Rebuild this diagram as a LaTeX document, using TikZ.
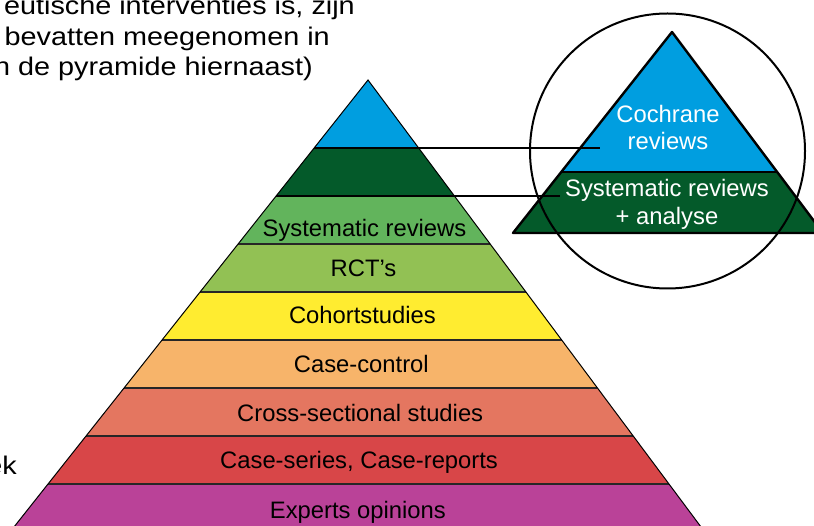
\documentclass[tikz,border=0pt]{standalone}
\usepackage{fontspec}
\setmainfont{Liberation Sans}
\newfontfamily\widefont[FakeStretch=1.13]{Liberation Sans}
\usetikzlibrary{calc}

\definecolor{cochraneblue}{RGB}{0,158,224}
\definecolor{srdark}{RGB}{4,90,42}
\definecolor{srlight}{RGB}{98,180,92}
\definecolor{rctgreen}{RGB}{146,193,84}
\definecolor{cohortyellow}{RGB}{255,236,48}
\definecolor{casectrl}{RGB}{247,180,106}
\definecolor{crosssec}{RGB}{228,118,96}
\definecolor{caseser}{RGB}{216,70,72}
\definecolor{expertpurple}{RGB}{186,66,152}

\begin{document}
\begin{tikzpicture}[x=1pt, y=-1pt,
        sep/.style={draw=black!85, line width=1.3pt},
        thickline/.style={draw=black, line width=2.4pt},
        lbl/.style={font=\fontsize{23.8}{28}\selectfont, anchor=base, inner sep=0pt},
        note/.style={font=\widefont\fontsize{25.5}{30}\selectfont, anchor=base east, inner sep=0pt}]
        \useasboundingbox (0,0) rectangle (814,526);
        \clip (0,0) rectangle (814,526);

        % Main pyramid bands
        \foreach \ya/\yb/\col in {80/148/cochraneblue, 148/196/srdark, 196/244/srlight,
                244/292/rctgreen, 292/340/cohortyellow, 340/388/casectrl,
                388/436/crosssec, 436/484/caseser, 484/540/expertpurple}{
            \fill[\col] ({368-0.792*(\ya-80)},\ya) -- ({368+0.745*(\ya-80)},\ya)
                -- ({368+0.745*(\yb-80)},\yb) -- ({368-0.792*(\yb-80)},\yb) -- cycle;
        }

        % Separating lines
        \foreach \y in {244,292,340,388,436,484}
            \draw[sep] ({368-0.792*(\y-80)},\y) -- ({368+0.745*(\y-80)},\y);
        \coordinate (cT) at ({368+0.745*68},148);   % right end, top of dark band
        \coordinate (cB) at ({368+0.745*116},196);  % right end, bottom of dark band
        \draw[thickline] ({368-0.792*68},148) -- (cT);
        \draw[thickline] ({368-0.792*116},196) -- (cB);

        % Outline
        \coordinate (apex) at (368,80);
        \draw[line width=1pt] ({368-0.792*460},540) -- (apex) -- ({368+0.745*460},540);

        % Labels
        \foreach \yb/\txt [count=\i] in {237/Systematic reviews, 277/RCT’s, 323.5/Cohortstudies,
                372.5/Case-control, 421/Cross-sectional studies,
                468/{Case-series, Case-reports}, 518/Experts opinions}
            \node[lbl] (lab\i) at ({368-0.0235*(\yb-88)},\yb) {\txt};

        % Inset pyramid
        \coordinate (iA) at (672,32);
        \coordinate (iL) at (561,172);
        \coordinate (iR) at (777,172);
        \coordinate (iBL) at (513,233);
        \coordinate (iBR) at (823,233);
        \fill[cochraneblue] (iA) -- (iR) -- (iL) -- cycle;
        \fill[srdark] (iL) -- (iR) -- (iBR) -- (iBL) -- cycle;
        \draw[thickline, line join=round] (iA) -- (iBR) -- (iBL) -- cycle;
        \draw[thickline] (iL) -- (iR);

        \node[lbl, text=white] (coch1) at (668,123) {Cochrane};
        \node[lbl, text=white] (coch2) at (668,150) {reviews};
        \node[lbl, text=white] (sra1) at (667,197) {Systematic reviews};
        \node[lbl, text=white] (sra2) at (667,225) {+ analyse};

        % Connectors to inset
        \coordinate (eT) at (600,148);
        \coordinate (eB) at (560,196);
        \draw[line width=2pt] (cT) -- (eT);
        \draw[line width=2pt] (cB) -- (eB);

        % Magnifier circle
        \draw[line width=2pt] (667.5,151) circle (137.5pt);

        % Cut-off text
        \node[note] (t1) at (355,15) {eutische interventies is, zijn};
        \node[note] (t2) at (330,46) {bevatten meegenomen in};
        \node[note] (t3) at (313,76) {n de pyramide hiernaast)};
        \node[note] (t4) at (17,474) {ek};
    \end{tikzpicture}
\end{document}
